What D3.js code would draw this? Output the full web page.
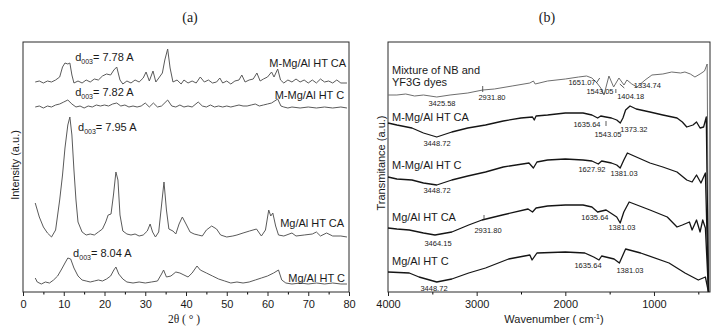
<!DOCTYPE html>
<html>
<head>
<meta charset="utf-8">
<script src="https://cdn.jsdelivr.net/npm/d3@7"></script>
<style>
  body { margin: 0; background: #fff; }
  text { font-family: "Liberation Sans", Arial, sans-serif; fill: #1a1a1a; }
  .serif { font-family: "Liberation Serif", "DejaVu Serif", serif; }
</style>
</head>
<body>
<div class="chart"></div>
<script>
// ---- (a) XRD patterns, [2theta, intensity a.u.] ----
var xrdMajorTicks = [0, 10, 20, 30, 40, 50, 60, 70, 80]
var xrdMinorTicks = [5, 15, 25, 35, 45, 55, 65, 75]

var xrdMMgAlCA = [[3,210],[4,211],[5,209],[6,211],[7,210],[8,212],[9,215],[9.7,225],[10.3,229],[11,228],[11.5,229],[12,217],[12.5,209],[13.5,211],[14.5,209],[15.5,212],[16.5,210],[17.5,213],[18.5,212],[19.5,216],[20.5,218],[21.5,217],[22.3,222],[23,225],[23.8,212],[24.5,208],[25.5,211],[26.5,209],[27.5,212],[28.5,210],[29.5,214],[30.2,220],[31,211],[31.9,221],[32.6,210],[33.5,215],[34.2,219],[34.8,232],[35.5,243],[36.1,224],[36.8,210],[37.8,212],[38.8,208],[39.5,212],[40.5,209],[41.5,211],[42.5,209],[43.5,215],[44.5,210],[45.5,212],[46.5,209],[47.5,210],[48.3,214],[49,209],[50,211],[51,208],[52,211],[53,212],[53.7,217],[54.5,210],[55.5,212],[56.5,213],[57.4,219],[58.2,211],[59,213],[60,215],[61,220],[61.6,215],[62.5,223],[63.2,212],[64,209],[65,212],[66,210],[67,213],[68,210],[69,212],[70,209],[71,212],[72,209],[73,213],[74,210],[75,211],[76,209],[77,212],[78,209],[79.5,209]]

var xrdMMgAlC = [[3,185],[4,186],[5,184],[6,186],[7,185],[8,187],[9,188],[10,190],[11,192],[12,188],[13,185],[14,186],[15,184],[16,186],[17,185],[18,187],[19,186],[20,187],[21,186],[22,188],[23,189],[24,186],[25,187],[26,185],[27,186],[28,185],[29,186],[30,189],[31,185],[32,189],[33,185],[34,186],[35.5,192],[36.5,186],[37.5,185],[38.5,187],[39.5,185],[40.5,186],[41.5,185],[43,190],[44,186],[45,185],[46,187],[47,185],[48,186],[49,185],[50,186],[51,185],[52,186],[53,187],[54,186],[55,186],[56,187],[57,188],[58,186],[59,187],[60,188],[61,189],[62.5,193],[63.3,186],[64,185],[65,184],[66,185],[68,184],[70,185],[72,184],[74,185],[76,184],[78,185],[79.5,184]]

var xrdMgAlCA = [[3,89],[4,75],[5,65],[6,59],[7,55],[8,62],[9,92],[9.7,117],[10.3,144],[11,167],[11.5,175],[12,157],[12.5,122],[13,92],[13.5,70],[14.5,60],[15.5,57],[16.5,58],[17.5,57],[18.5,60],[19.5,63],[20.3,70],[20.9,77],[21.6,78],[22.2,97],[22.8,120],[23.3,112],[23.8,77],[24.5,61],[25.5,58],[26.5,57],[27.5,58],[28.5,56],[29.5,57],[30.5,61],[31.2,68],[31.8,60],[32.5,55],[33.3,60],[34,87],[34.6,110],[35.2,82],[35.8,63],[36.8,61],[37.5,58],[38.3,68],[39.1,75],[40,68],[41,60],[42,58],[43,57],[44,56],[45,62],[46.3,66],[47.5,63],[48.5,57],[50,55],[51.5,56],[52.5,57],[54,59],[55.6,61],[57.3,63],[58.5,56],[59.5,62],[60.3,82],[60.8,76],[61.3,79],[62,66],[62.7,57],[64,56],[66,59],[67,56],[69,57],[71,58],[72,60],[73,56],[74.5,59],[76,56],[78,56],[79.5,55]]

var xrdMgAlC = [[3,14],[3.5,10],[4.5,8],[5.5,10],[6.5,9],[7.5,12],[8.5,16],[9.5,23],[10.3,29],[11,34],[11.7,33],[12.5,24],[13.5,16],[14.5,12],[15.5,11],[16.5,10],[17.5,11],[18.5,12],[19.5,11],[20.5,13],[21.5,16],[22.3,22],[22.8,25],[23.5,18],[24.5,13],[25.5,10],[27,9],[28.5,10],[30,9],[31.5,10],[33,11],[34,18],[34.5,22],[35.2,15],[36.3,16],[37.5,20],[38.5,19],[39.5,17],[40.5,15],[41.5,19],[42.7,26],[43.5,22],[45,19],[46.5,16],[48,13],[49.5,11],[51,9],[52.5,10],[54,9],[55.5,10],[57,12],[58.5,14],[60,16],[61.5,19],[62.7,22],[63.5,12],[64.5,9],[66,8],[68,9],[70,8],[72,9],[74,8],[76,9],[78,8],[79.5,8]]

// [2theta, intensity, text, anchor]
var xrdLabels = [
  [79.3, 229, 'M-Mg/Al HT CA', 'end'],
  [78.8, 197, 'M-Mg/Al HT C', 'end'],
  [78.8, 69, 'Mg/Al HT CA', 'end'],
  [79.0, 14, 'Mg/Al HT C', 'end']
]
var dSpacings = [[12.8, 235, '7.78'], [12.8, 200, '7.82'], [13.5, 165, '7.95'], [12.3, 39, '8.04']]

// ---- (b) FTIR spectra, [wavenumber, transmittance a.u.] ----
var ftirMajorTicks = [4000, 3000, 2000, 1000]
var ftirMinorTicks = [3500, 2500, 1500, 500]

var ftirDyes = [[4000,197],[3900,197],[3800,198],[3700,196],[3600,197],[3450,195],[3300,197],[3100,199],[2931.8,202],[2800,203],[2600,206],[2400,209],[2360,211],[2340,208],[2200,211],[2000,213],[1850,215],[1760,216],[1700,214],[1643,209],[1600,204],[1564,197],[1508,216],[1455,205],[1395,214],[1338,207],[1305,212],[1250,208],[1192,205],[1100,212],[1023,217],[900,218],[800,220],[700,219],[651,220],[590,218],[538,215],[480,218],[430,221],[400,228],[385,0]]

var ftirMMgAlCA = [[4000,169],[3900,167],[3730,164],[3600,159],[3450,155],[3280,160],[3100,164],[2900,167],[2700,171],[2500,174],[2370,175],[2350,172],[2330,176],[2200,177],[2000,179],[1800,179],[1700,177],[1635,174],[1600,176],[1543,175],[1480,174],[1420,172],[1380,169],[1350,174],[1320,182],[1270,186],[1200,183],[1045,180],[900,177],[740,174],[680,170],[630,165],[560,167],[520,170],[480,164],[440,165],[410,175],[385,0]]

var ftirMMgAlC = [[4000,115],[3900,113],[3730,112],[3600,109],[3450,107],[3280,112],[3100,116],[2900,120],[2700,125],[2410,129],[2360,124],[2320,130],[2200,132],[2000,133],[1800,132],[1700,131],[1628,128],[1590,131],[1480,129],[1420,127],[1381,124],[1340,132],[1300,139],[1250,137],[1045,129],[900,125],[740,120],[630,112],[570,110],[520,117],[470,109],[420,119],[385,0]]

var ftirMgAlCA = [[4000,64],[3900,63],[3760,62],[3600,59],[3470,57],[3280,60],[3090,67],[2940,72],[2710,77],[2420,83],[2370,80],[2330,84],[2200,86],[2000,87],[1800,87],[1700,85],[1636,80],[1540,82],[1420,75],[1381,69],[1340,80],[1280,90],[1045,82],[850,75],[740,65],[680,67],[600,70],[570,62],[520,72],[480,60],[450,72],[420,64],[385,0]]

var ftirMgAlC = [[4000,20],[3760,19],[3650,15],[3450,10],[3280,13],[3090,19],[2900,24],[2640,33],[2400,37],[2375,32],[2320,39],[2000,40],[1780,39],[1680,35],[1620,32],[1590,36],[1450,33],[1390,29],[1320,43],[1150,39],[830,29],[650,19],[500,12],[420,15],[385,0]]

// [wavenumber, transmittance, text]
var ftirSampleLabels = [
  [3955, 222, 'Mixture of NB and'], [3955, 210, 'YF3G dyes'],
  [3955, 175, 'M-Mg/Al HT CA'], [3955, 127, 'M-Mg/Al HT C'],
  [3955, 75, 'Mg/Al HT CA'], [3955, 31, 'Mg/Al HT C']
]
var ftirPeakLabels = [
  [3391, 189, '3425.58'], [2827, 195, '2931.80'], [1812, 210, '1651.07'], [1609, 201, '1543.05'],
  [1262, 196, '1404.18'], [1075, 207, '1334.74'],
  [3447, 149, '3448.72'], [1756, 168, '1635.64'], [1519, 158, '1543.05'], [1226, 163, '1373.32'],
  [3447, 102, '3448.72'], [1699, 123, '1627.92'], [1338, 119, '1381.03'],
  [3436, 49, '3464.15'], [2872, 62, '2931.80'], [1666, 75, '1635.64'], [1361, 65, '1381.03'],
  [3481, 4, '3448.72'], [1744, 27, '1635.64'], [1271, 22, '1381.03']
]
// small pointer strokes: [w1, t1, w2, t2]
var ftirPointers = [
  [2931.8, 200, 2931.8, 206], [1430, 199, 1430, 203], [1650, 209, 1612, 214],
  [1385, 208, 1335, 204], [1541, 166, 1541, 171], [2917, 73, 2917, 77]
]

var svg = d3.select('.chart').append('svg')
  .attr('width', 712)
  .attr('height', 326)

var line = function (x, y) {
  return d3.line()
    .x(function (d) { return x(d[0]) })
    .y(function (d) { return y(d[1]) })
}

var drawFrame = function (g, x, y, major, minor) {
  var h = y.range()[0]
  g.append('g')
    .attr('transform', 'translate(0,' + h + ')')
    .call(d3.axisBottom(x).tickValues(minor).tickSize(2.5).tickFormat(''))
    .call(function (a) { a.select('.domain').remove() })
  g.append('g')
    .attr('transform', 'translate(0,' + h + ')')
    .call(d3.axisBottom(x).tickValues(major).tickSize(4).tickPadding(4).tickFormat(d3.format('d')))
    .call(function (a) {
      a.select('.domain').remove()
      a.selectAll('line').attr('stroke', '#222')
      a.selectAll('text').attr('font-size', 11).attr('fill', '#1a1a1a')
        .attr('font-family', '"Liberation Sans", Arial, sans-serif')
    })
  g.append('rect')
    .attr('x', Math.min(x.range()[0], x.range()[1]))
    .attr('y', y.range()[1])
    .attr('width', Math.abs(x.range()[1] - x.range()[0]))
    .attr('height', y.range()[0] - y.range()[1])
    .attr('fill', 'none')
    .attr('stroke', '#2a2a2a')
    .attr('stroke-width', 1)
}

// ---------- panel (a) ----------
var xa = d3.scaleLinear().domain([0, 80]).range([23, 349])
var ya = d3.scaleLinear().domain([0, 250]).range([292, 42])
var ga = svg.append('g')

drawFrame(ga, xa, ya, xrdMajorTicks, xrdMinorTicks)

;[xrdMMgAlCA, xrdMMgAlC, xrdMgAlCA, xrdMgAlC].forEach(function (s) {
  ga.append('path').datum(s)
    .attr('d', line(xa, ya))
    .attr('fill', 'none')
    .attr('stroke', '#5a5a5a')
    .attr('stroke-width', 1)
    .attr('stroke-linejoin', 'round')
})

ga.selectAll('.lab').data(xrdLabels).enter().append('text')
  .attr('x', function (d) { return xa(d[0]) })
  .attr('y', function (d) { return ya(d[1]) })
  .attr('dy', '0.35em')
  .attr('text-anchor', function (d) { return d[3] })
  .attr('font-size', 11)
  .text(function (d) { return d[2] })

var dl = ga.selectAll('.dsp').data(dSpacings).enter().append('text')
  .attr('x', function (d) { return xa(d[0]) })
  .attr('y', function (d) { return ya(d[1]) })
  .attr('dy', '0.35em')
  .attr('font-size', 11)
dl.append('tspan').text('d')
dl.append('tspan').attr('font-size', 7).attr('dy', 3).text('003')
dl.append('tspan').attr('dy', -3).text(function (d) { return '= ' + d[2] + ' A' })

ga.append('text')
  .attr('transform', 'translate(15,165) rotate(-90)')
  .attr('text-anchor', 'middle')
  .attr('dy', '0.35em')
  .attr('font-size', 11)
  .text('Intensity (a.u.)')

ga.append('text').attr('class', 'serif')
  .attr('x', 184).attr('y', 323)
  .attr('text-anchor', 'middle')
  .attr('font-size', 11.5)
  .text('2θ ( ° )')

ga.append('text').attr('class', 'serif')
  .attr('x', 190).attr('y', 22)
  .attr('text-anchor', 'middle')
  .attr('font-size', 14)
  .text('(a)')

// ---------- panel (b) ----------
var xb = d3.scaleLinear().domain([4000, 368]).range([388, 710])
var yb = d3.scaleLinear().domain([0, 250]).range([292, 42])
var gb = svg.append('g')

drawFrame(gb, xb, yb, ftirMajorTicks, ftirMinorTicks)

gb.append('path').datum(ftirDyes)
  .attr('d', line(xb, yb))
  .attr('fill', 'none')
  .attr('stroke', '#6e6e6e')
  .attr('stroke-width', 1)
  .attr('stroke-linejoin', 'round')

;[ftirMMgAlCA, ftirMMgAlC, ftirMgAlCA, ftirMgAlC].forEach(function (s) {
  gb.append('path').datum(s)
    .attr('d', line(xb, yb))
    .attr('fill', 'none')
    .attr('stroke', '#151515')
    .attr('stroke-width', 1.3)
    .attr('stroke-linejoin', 'round')
})

gb.selectAll('.ptr').data(ftirPointers).enter().append('line')
  .attr('x1', function (d) { return xb(d[0]) })
  .attr('y1', function (d) { return yb(d[1]) })
  .attr('x2', function (d) { return xb(d[2]) })
  .attr('y2', function (d) { return yb(d[3]) })
  .attr('stroke', '#333')
  .attr('stroke-width', 0.8)

gb.selectAll('.slab').data(ftirSampleLabels).enter().append('text')
  .attr('x', function (d) { return xb(d[0]) })
  .attr('y', function (d) { return yb(d[1]) })
  .attr('dy', '0.35em')
  .attr('font-size', 11)
  .text(function (d) { return d[2] })

gb.selectAll('.plab').data(ftirPeakLabels).enter().append('text')
  .attr('x', function (d) { return xb(d[0]) })
  .attr('y', function (d) { return yb(d[1]) })
  .attr('dy', '0.35em')
  .attr('text-anchor', 'middle')
  .attr('font-size', 7.5)
  .text(function (d) { return d[2] })

gb.append('text')
  .attr('transform', 'translate(381,163) rotate(-90)')
  .attr('text-anchor', 'middle')
  .attr('dy', '0.35em')
  .attr('font-size', 11)
  .text('Transmitance (a.u.)')

var wl = gb.append('text')
  .attr('x', 554).attr('y', 323)
  .attr('text-anchor', 'middle')
  .attr('font-size', 11)
wl.append('tspan').text('Wavenumber ( cm')
wl.append('tspan').attr('font-size', 7).attr('dy', -4).text('-1')
wl.append('tspan').attr('dy', 4).text(')')

gb.append('text').attr('class', 'serif')
  .attr('x', 547).attr('y', 22)
  .attr('text-anchor', 'middle')
  .attr('font-size', 14)
  .text('(b)')
</script>
</body>
</html>
